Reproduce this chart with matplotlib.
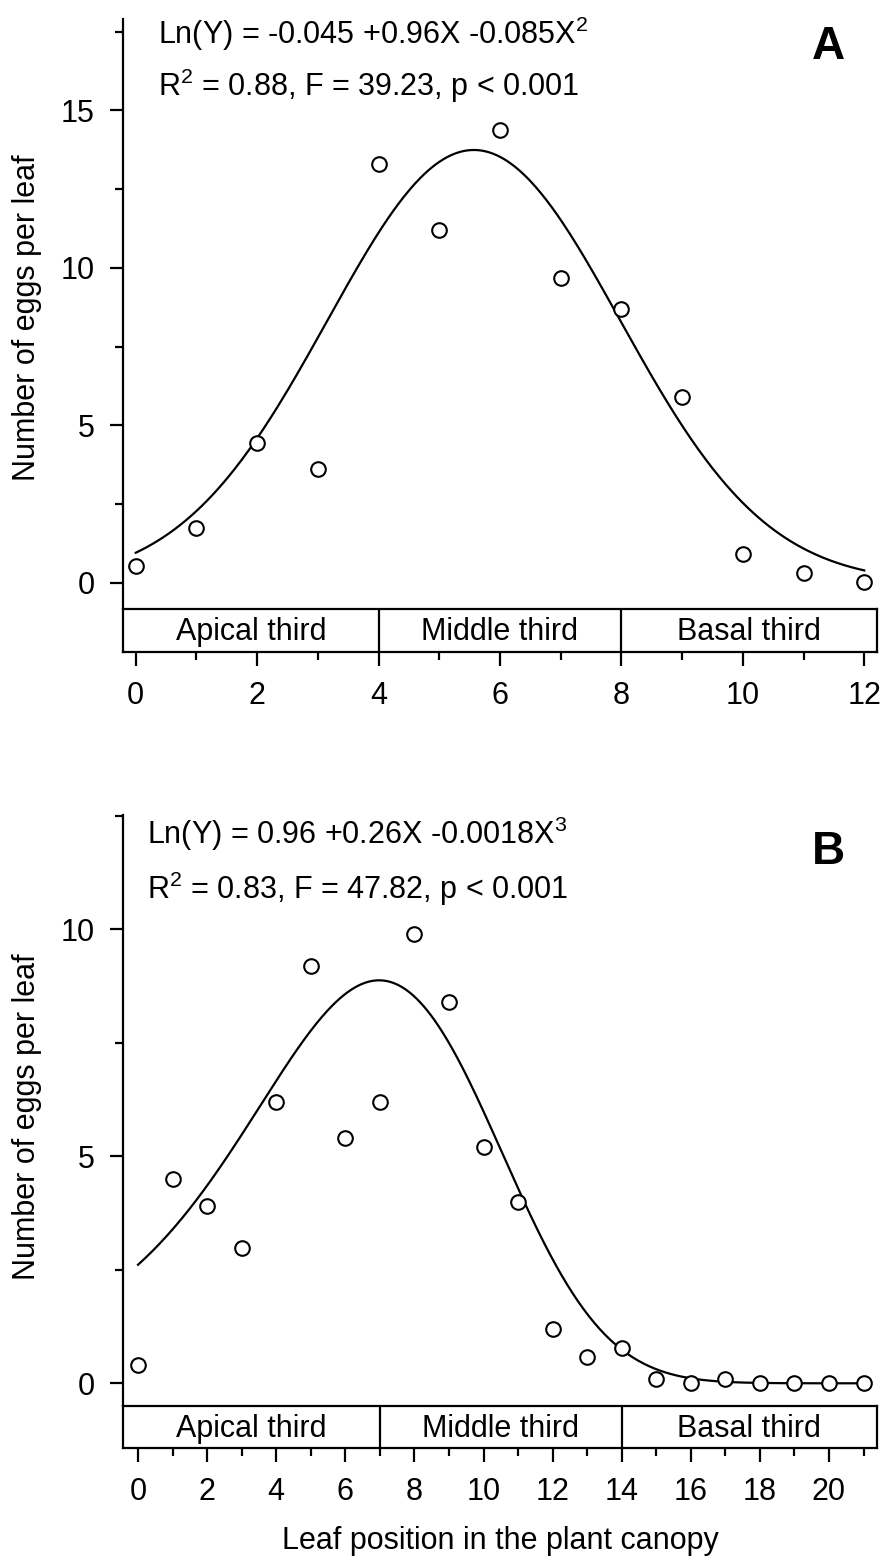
import numpy as np
import matplotlib
matplotlib.use("Agg")
import matplotlib.pyplot as plt
from matplotlib.ticker import MultipleLocator

plt.rcParams['font.family'] = ['Liberation Sans', 'DejaVu Sans']
plt.rcParams['mathtext.fontset'] = 'custom'
plt.rcParams['mathtext.rm'] = 'Liberation Sans'
plt.rcParams['mathtext.it'] = 'Liberation Sans:italic'
plt.rcParams['mathtext.bf'] = 'Liberation Sans:bold'

# ---------------- data ----------------
leaf_a = list(range(0, 13))
eggs_a = [0.53, 1.74, 4.43, 3.62, 13.31, 11.2, 14.39, 9.69, 8.69, 5.9, 0.91, 0.32, 0.01]
coef_a = [-0.05, 0.959, -0.0861]          # Ln(Y) = a + bX + cX^2 (drawn curve)
eq_a = r'Ln(Y) = -0.045 +0.96X -0.085X$^{\mathrm{2}}$'
stat_a = r'R$^{\mathrm{2}}$ = 0.88, F = 39.23, p < 0.001'

leaf_b = list(range(0, 22))
eggs_b = [0.40, 4.49, 3.90, 2.99, 6.20, 9.2, 5.40, 6.20, 9.89, 8.40, 5.2, 3.99,
          1.19, 0.59, 0.78, 0.09, 0.0, 0.09, 0.0, 0.0, 0.0, 0.0]
coef_b = [0.96, 0.263, -0.0018]           # Ln(Y) = a + bX + cX^3 (drawn curve)
eq_b = r'Ln(Y) = 0.96 +0.26X -0.0018X$^{\mathrm{3}}$'
stat_b = r'R$^{\mathrm{2}}$ = 0.83, F = 47.82, p < 0.001'

thirds = ['Apical third', 'Middle third', 'Basal third']
bounds_a = [4, 8]
bounds_b = [7, 14]

W, H = 885, 1562
fig = plt.figure(figsize=(W / 100, H / 100), dpi=100)

def fx(px):
    return px / W

def fy(py):
    return 1 - py / H

LW = 1.6
FS = 22

def panel(top, band_top, band_bot, x, y, curve_fn, xmax_curve, xlim, ylim,
          ymax_tick, bounds, label, eq, stat, eq_x, eq_y1, eq_y2, letter_y):
    left, right = 123, 877
    ax = fig.add_axes([fx(left), fy(band_top), fx(right) - fx(left), fy(top) - fy(band_top)])
    band = fig.add_axes([fx(left), fy(band_bot), fx(right) - fx(left), fy(band_top) - fy(band_bot)])
    # main axes
    for s in ['top', 'right', 'bottom']:
        ax.spines[s].set_visible(False)
    ax.spines['left'].set_linewidth(LW)
    ax.set_xlim(*xlim)
    ax.set_ylim(*ylim)
    ax.set_xticks([])
    ax.set_yticks(np.arange(0, ymax_tick + 0.1, 5))
    ax.set_yticks(np.arange(2.5, ylim[1], 5), minor=True)
    ax.tick_params(axis='y', which='major', direction='out', length=9.5, width=LW,
                   labelsize=FS, pad=11)
    ax.tick_params(axis='y', which='minor', direction='out', length=5.8, width=LW)
    xs = np.linspace(0, xmax_curve, 400)
    ax.plot(xs, curve_fn(xs), color='black', lw=1.6, zorder=2)
    ax.plot(x, y, 'o', ms=10.5, mfc='white', mec='black', mew=1.5, zorder=3,
            clip_on=False)
    ax.patch.set_alpha(0)
    # band axes
    band.set_xlim(*xlim)
    band.set_ylim(0, 1)
    band.set_yticks([])
    for s in band.spines.values():
        s.set_linewidth(LW)
    band.xaxis.set_major_locator(MultipleLocator(2))
    band.xaxis.set_minor_locator(MultipleLocator(1))
    band.tick_params(axis='x', which='major', direction='out', length=10, width=LW,
                     labelsize=FS, pad=11)
    band.tick_params(axis='x', which='minor', direction='out', length=6, width=LW)
    for b in bounds:
        band.axvline(b, color='black', lw=LW)
    edges = [xlim[0]] + bounds + [xlim[1]]
    for i, t in enumerate(thirds):
        band.text((edges[i] + edges[i + 1]) / 2, 0.45, t, ha='center', va='center',
                  fontsize=FS)
    # texts
    fig.text(fx(eq_x), fy(eq_y1), eq, fontsize=FS, ha='left', va='baseline')
    fig.text(fx(eq_x), fy(eq_y2), stat, fontsize=FS, ha='left', va='baseline')
    fig.text(fx(828), fy(letter_y), label, fontsize=33, fontweight='bold',
             ha='center', va='center')
    return ax, band

fa = lambda X: np.exp(coef_a[0] + coef_a[1] * X + coef_a[2] * X ** 2)
fb = lambda X: np.exp(coef_b[0] + coef_b[1] * X + coef_b[2] * X ** 3)

panel(19, 609, 651.7, leaf_a, eggs_a, fa, 12, (-0.21, 12.21), (-0.835, 17.9),
      15, bounds_a, 'A', eq_a, stat_a, 158, 44, 96, 47)
panel(815, 1406, 1448.3, leaf_b, eggs_b, fb, 21, (-0.435, 21.39), (-0.5, 12.52),
      10, bounds_b, 'B', eq_b, stat_b, 147, 844, 899, 852)

ylab = 'Number of eggs per leaf'
fig.text(fx(27), fy(318), ylab, rotation=90, ha='center', va='center', fontsize=FS)
fig.text(fx(27), fy(1117), ylab, rotation=90, ha='center', va='center', fontsize=FS)
fig.text(fx(500), fy(1541), 'Leaf position in the plant canopy', ha='center',
         va='center', fontsize=FS)

fig.savefig('out.png', dpi=100)
